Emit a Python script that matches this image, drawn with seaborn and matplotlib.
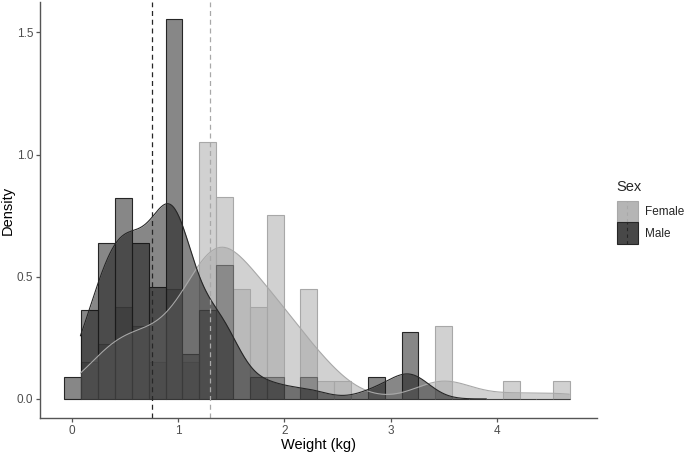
import numpy as np
import pandas as pd
import matplotlib
matplotlib.use("Agg")
import matplotlib.pyplot as plt
import seaborn as sns
from matplotlib.patches import Patch, Rectangle
from matplotlib.lines import Line2D
from matplotlib.legend_handler import HandlerBase

# histogram bins (30 bins)
bin_start = -0.07
bin_width = 0.1586

sexes = ["Female", "Male"]
female_counts = [0, 2, 3, 5, 4, 2, 6, 2, 14, 11, 6, 5, 10, 0, 6,
                 1, 1, 0, 0, 0, 0, 0, 4, 0, 0, 0, 1, 0, 0, 1]
male_counts = [1, 4, 7, 9, 7, 5, 17, 2, 4, 6, 0, 1, 1, 0, 1,
               0, 0, 0, 1, 0, 3, 0, 0, 0, 0, 0, 0, 0, 0, 0]
mean_weight = [1.30, 0.75]   # dashed reference lines (Female, Male)

edges = bin_start + bin_width * np.arange(31)
centers = edges[:-1] + bin_width / 2
df = pd.DataFrame({
    "Weight": np.concatenate([np.repeat(centers, female_counts),
                              np.repeat(centers, male_counts)]),
    "Sex": ["Female"] * sum(female_counts) + ["Male"] * sum(male_counts),
})

# styling
fill = {"Female": "#a5a5a5", "Male": "#111111"}
edge = {"Female": "#a8a8a8", "Male": "#262626"}
key_face = {"Female": "#b5b5b5", "Male": "#484848"}
kde_clip = {"Female": (0.08, 4.68), "Male": (0.08, 3.9)}
kde_bw = {"Female": 0.76, "Male": 0.62}

sns.set_theme(style="ticks")
plt.rcParams["font.family"] = ["Liberation Sans", "DejaVu Sans"]

fig, ax = plt.subplots(figsize=(6.85, 4.54), dpi=100)
fig.subplots_adjust(left=0.0584, right=0.8715, bottom=0.0793, top=0.9956)

for sex in sexes:
    sub = df[df["Sex"] == sex]
    sns.histplot(data=sub, x="Weight", bins=edges, stat="density",
                 color=fill[sex], alpha=0.5, edgecolor=edge[sex],
                 linewidth=0.8, ax=ax)

for sex in sexes:
    sub = df[df["Sex"] == sex]
    sns.kdeplot(data=sub, x="Weight", fill=True, color=fill[sex], alpha=0.5,
                linewidth=0, clip=kde_clip[sex], cut=10,
                bw_adjust=kde_bw[sex], gridsize=400, ax=ax)
    sns.kdeplot(data=sub, x="Weight", color=edge[sex], linewidth=0.8,
                clip=kde_clip[sex], cut=10, bw_adjust=kde_bw[sex],
                gridsize=400, ax=ax)

for sex, m in zip(sexes, mean_weight):
    ax.axvline(m, color=edge[sex], linestyle=(0, (4, 3)), linewidth=0.9)

ax.set_xlim(-0.30, 4.94)
ax.set_ylim(-0.078, 1.624)
ax.set_xticks([0, 1, 2, 3, 4])
ax.set_yticks([0, 0.5, 1.0, 1.5])
ax.set_yticklabels(["0.0", "0.5", "1.0", "1.5"])
ax.tick_params(axis="both", direction="out", length=3, width=0.9,
               color="#555555", labelcolor="#4d4d4d", labelsize=8.5, pad=2)
for side in ["top", "right"]:
    ax.spines[side].set_visible(False)
for side in ["left", "bottom"]:
    ax.spines[side].set_color("#555555")
    ax.spines[side].set_linewidth(1.0)
ax.set_xlabel("Weight (kg)", fontsize=10.5, color="black", labelpad=1)
ax.set_ylabel("Density", fontsize=10.5, color="black")
ax.yaxis.set_label_coords(-0.045, 0.5)


class KeyHandler(HandlerBase):
    def create_artists(self, legend, orig_handle, xdescent, ydescent,
                       width, height, fontsize, trans):
        r = Rectangle((-xdescent, -ydescent), width, height,
                      facecolor=orig_handle.get_facecolor(),
                      edgecolor=orig_handle.get_edgecolor(),
                      linewidth=0.8, transform=trans)
        x = -xdescent + width / 2
        ln = Line2D([x, x], [-ydescent, height - ydescent],
                    color=orig_handle.get_edgecolor(),
                    linestyle=(0, (3, 3)), linewidth=0.8, transform=trans)
        return [r, ln]


handles = [Patch(facecolor=key_face[s], edgecolor=edge[s]) for s in sexes]
leg = ax.legend(handles, sexes, title="Sex", loc="upper left",
                bbox_to_anchor=(0.9, 0.604), bbox_transform=fig.transFigure,
                frameon=False, handler_map={h: KeyHandler() for h in handles},
                handlelength=1.85, handleheight=2.44, labelspacing=0.0,
                handletextpad=0.6, borderaxespad=0, borderpad=0,
                fontsize=8.5, title_fontsize=10.5, alignment="left")
leg._legend_box.sep = 5

fig.savefig("out.png", dpi=100)
